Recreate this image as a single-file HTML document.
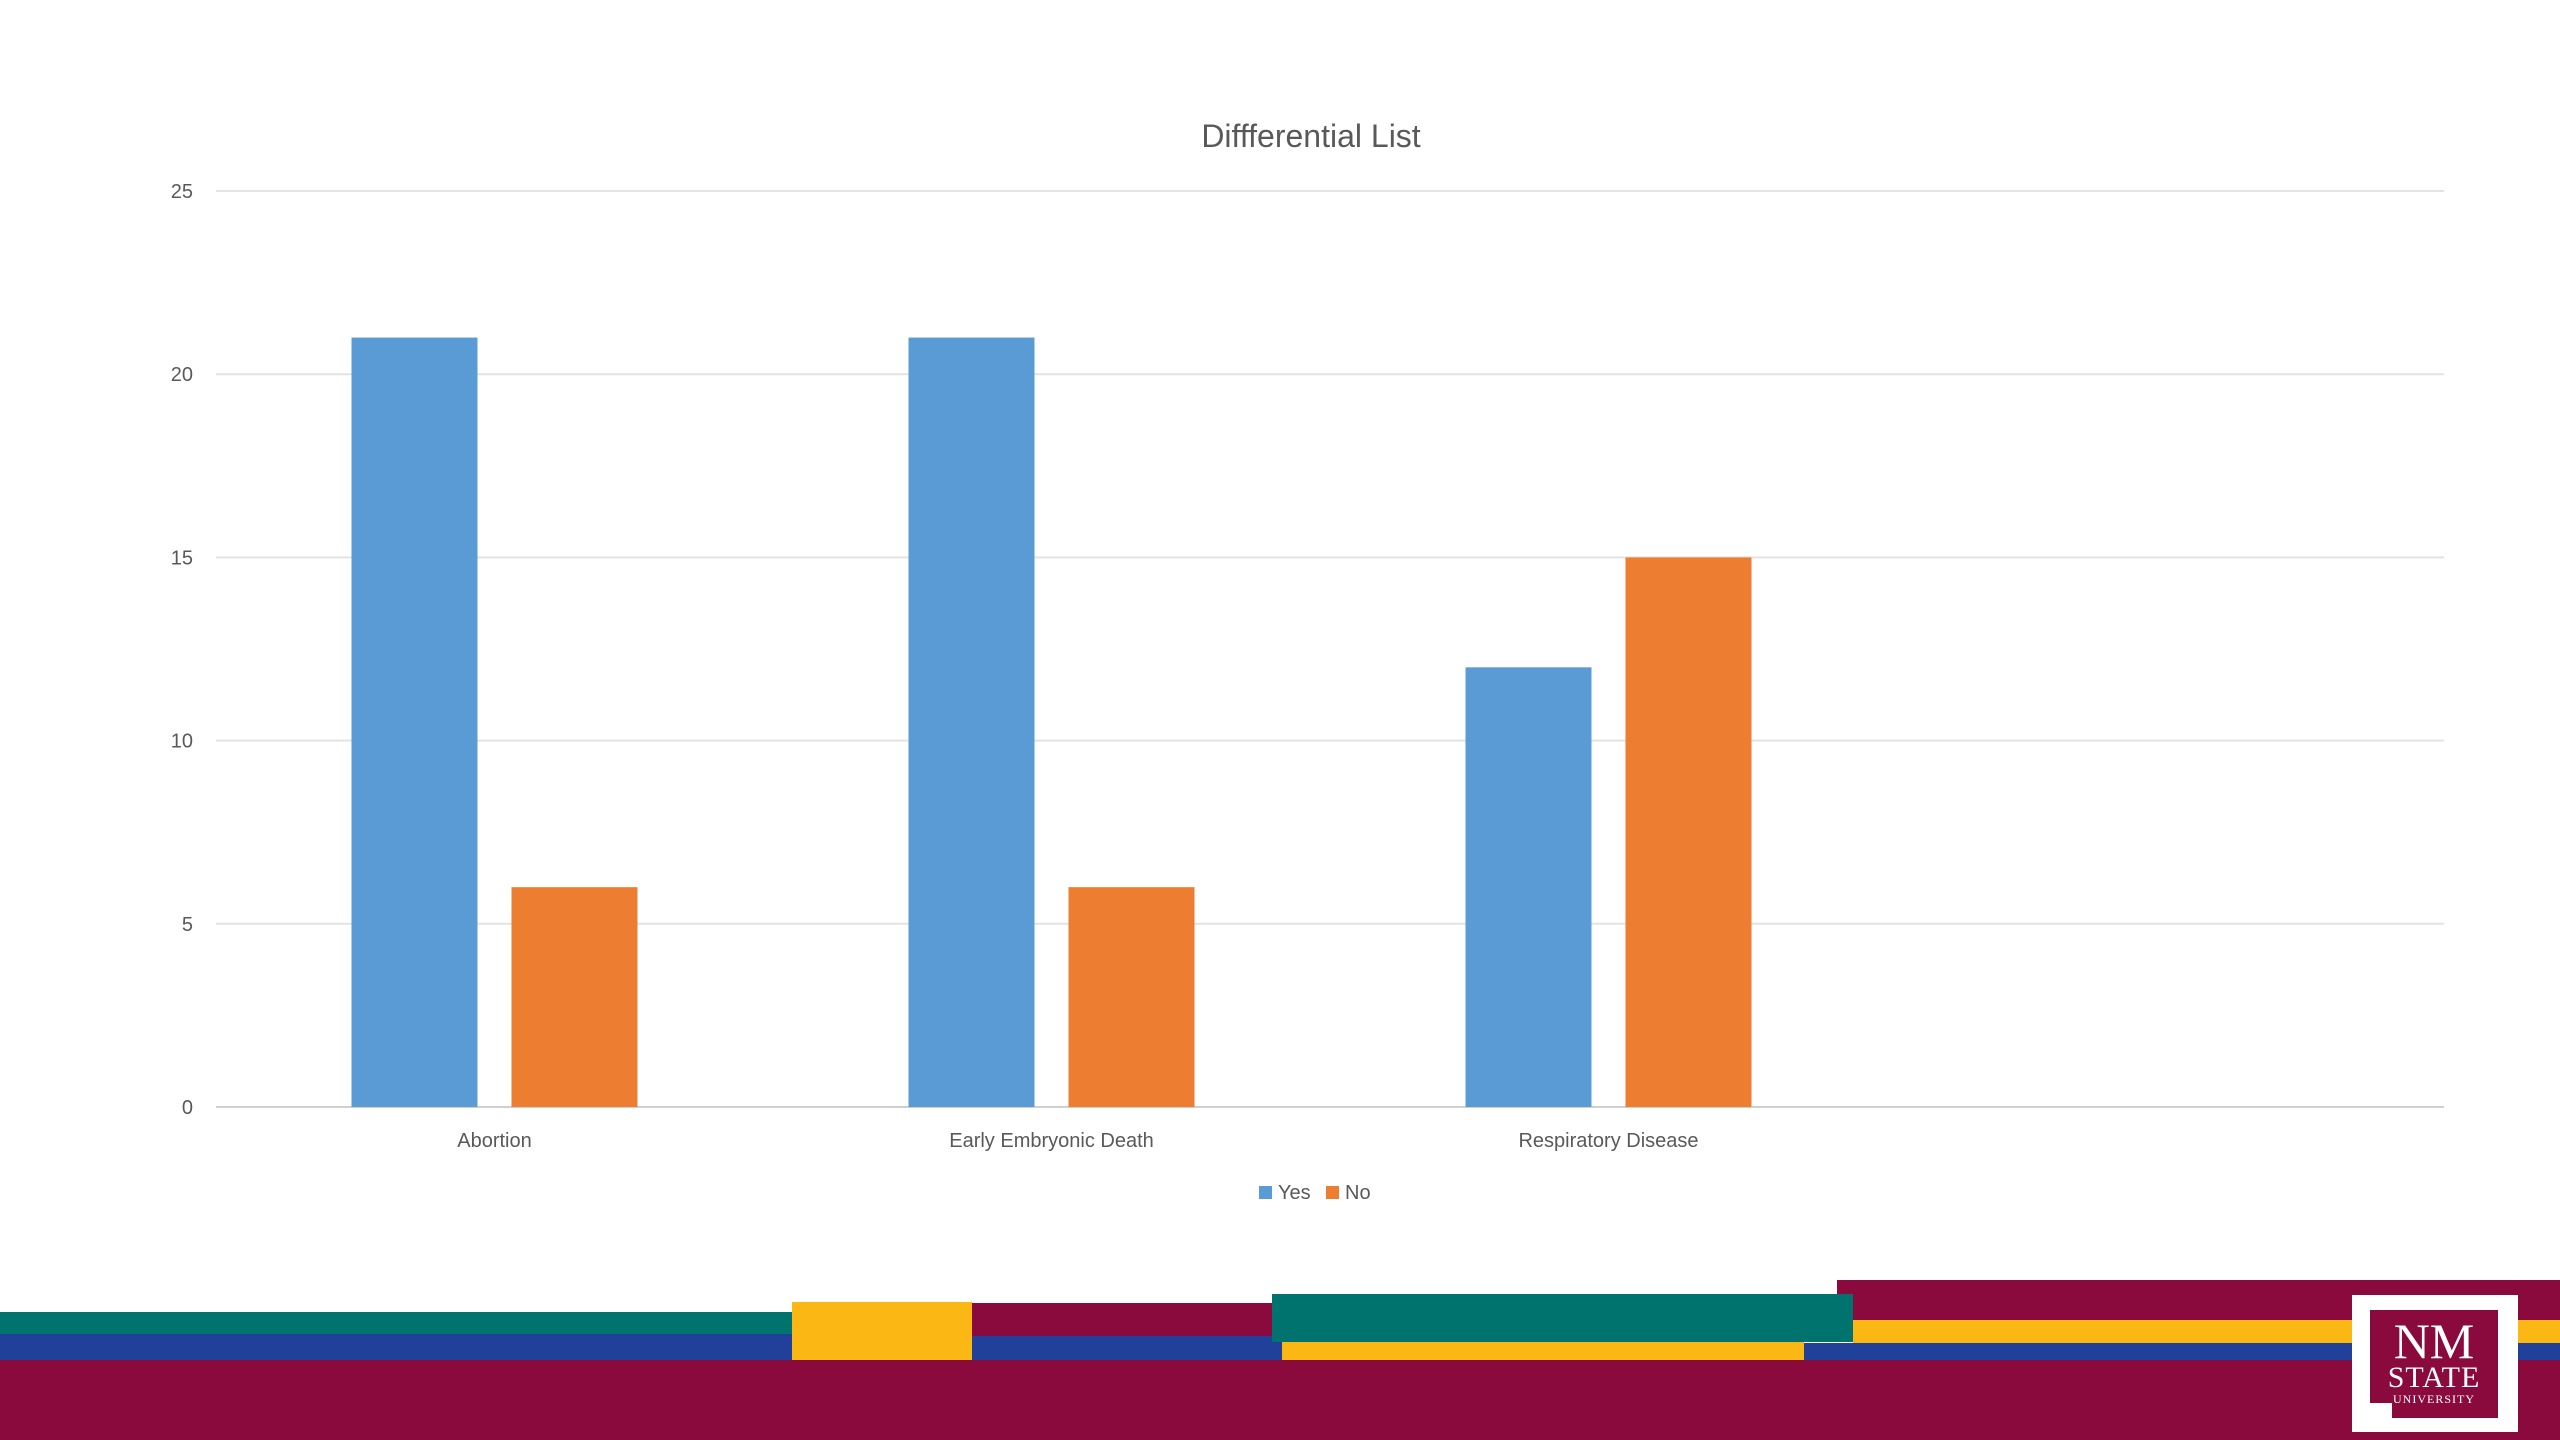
<!DOCTYPE html>
<html><head><meta charset="utf-8"><style>
html,body{margin:0;padding:0;width:2560px;height:1440px;overflow:hidden;background:#fff}
.b{position:absolute}
</style></head><body>
<svg id="chart" width="2560" height="1440" style="position:absolute;left:0;top:0" font-family="'Liberation Sans', sans-serif">
<text x="1311" y="147" text-anchor="middle" font-size="32" fill="#595959">Diffferential List</text>
<g id="grid"></g><g id="bars"></g><g id="xlabels"></g>
<g>
<rect x="1259" y="1186" width="13" height="13" fill="#5b9bd5"/>
<text x="1278" y="1199" font-size="20" fill="#595959">Yes</text>
<rect x="1326" y="1186" width="13" height="13" fill="#ed7d31"/>
<text x="1345" y="1199" font-size="20" fill="#595959">No</text>
</g>
</svg>
<div>
<div class="b" style="left:0;top:1312px;width:792px;height:22px;background:#00736f"></div>
<div class="b" style="left:0;top:1334px;width:792px;height:26px;background:#21409a"></div>
<div class="b" style="left:0;top:1360px;width:2560px;height:80px;background:#8a0a3e"></div>
<div class="b" style="left:792px;top:1302px;width:180px;height:58px;background:#fbb714"></div>
<div class="b" style="left:972px;top:1303px;width:300px;height:33px;background:#8a0a3e"></div>
<div class="b" style="left:972px;top:1336px;width:310px;height:24px;background:#21409a"></div>
<div class="b" style="left:1282px;top:1342px;width:522px;height:18px;background:#fbb714"></div>
<div class="b" style="left:1804px;top:1343px;width:756px;height:17px;background:#21409a"></div>
<div class="b" style="left:1837px;top:1280px;width:723px;height:40px;background:#8a0a3e"></div>
<div class="b" style="left:1853px;top:1320px;width:707px;height:23px;background:#fbb714"></div>
<div class="b" style="left:1272px;top:1294px;width:581px;height:48px;background:#00736f"></div>
</div>
<div class="b" style="left:2352px;top:1295px;width:166px;height:137px;background:#fff">
<div class="b" style="left:18px;top:15px;width:128px;height:108px;background:#8a0a3e;color:#fff;font-family:'Liberation Serif',serif;text-align:center">
<div style="font-size:50px;line-height:46px;margin-top:8px">NM</div>
<div style="font-size:30px;line-height:28px;letter-spacing:1px">STATE</div>
<div style="font-size:12px;line-height:14px;letter-spacing:1px">UNIVERSITY</div>
</div>
<div class="b" style="left:18px;top:108px;width:22px;height:15px;background:#fff"></div>
</div>
<script>
const categories=["Abortion","Early Embryonic Death","Respiratory Disease",""];
const yesValues=[21,21,12];
const noValues=[6,6,15];
const yTicks=[0,5,10,15,20,25];
const NS="http://www.w3.org/2000/svg";
const x0=216,x1=2444,yTop=191,yBot=1107,yMax=25;
const y=v=>yBot-(v/yMax)*(yBot-yTop);
const band=(x1-x0)/categories.length;
const cx=i=>x0+band*(i+0.5);
function mk(t,a,p){const e=document.createElementNS(NS,t);for(const k in a)e.setAttribute(k,a[k]);p.appendChild(e);return e;}
const grid=document.getElementById('grid');
yTicks.forEach(t=>{
 const l=mk('line',{x1:x0,x2:x1,y1:y(t),y2:y(t),stroke:t===0?'#d0d0d0':'#e3e3e3','stroke-width':2},grid);
 
 
 const tx=mk('text',{x:193,y:y(t)+7,'text-anchor':'end','font-size':20,fill:'#595959'},grid);
 tx.textContent=t;
 
 
});
const bars=document.getElementById('bars');
const bw=126,gap=34;
yesValues.forEach((v,i)=>{
 const r=mk('rect',{x:cx(i)-gap/2-bw,y:y(v),width:bw,height:yBot-y(v),fill:'#5b9bd5'},bars);
 
 
});
noValues.forEach((v,i)=>{
 const r=mk('rect',{x:cx(i)+gap/2,y:y(v),width:bw,height:yBot-y(v),fill:'#ed7d31'},bars);
 
 
});
const xl=document.getElementById('xlabels');
categories.forEach((c,i)=>{
 if(!c)return;
 const t=mk('text',{x:cx(i),y:1147,'text-anchor':'middle','font-size':20,fill:'#595959'},xl);
 t.textContent=c;
 
 
});
</script>
</body></html>
